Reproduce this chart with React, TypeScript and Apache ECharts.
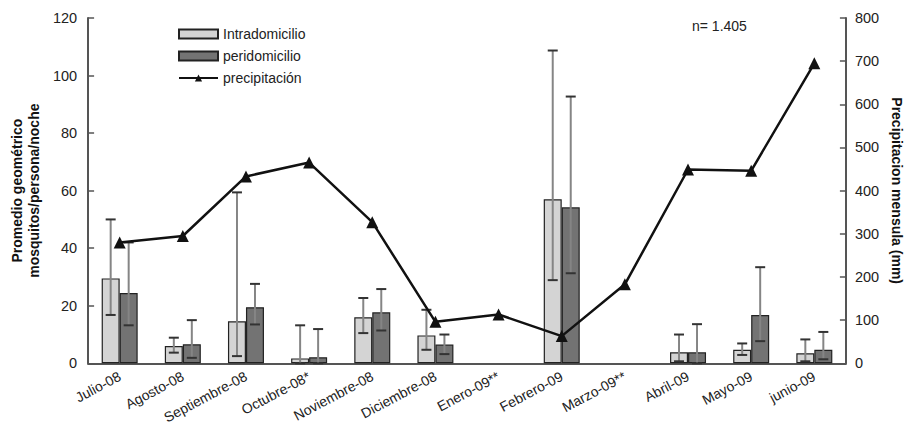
import React, { useEffect, useRef } from "react";
import * as echarts from "echarts";

const months = [
  "Julio-08", "Agosto-08", "Septiembre-08", "Octubre-08*", "Noviembre-08", "Diciembre-08",
  "Enero-09**", "Febrero-09", "Marzo-09**", "Abril-09", "Mayo-09", "junio-09",
];
const intraMean = [29.5, 6.0, 14.6, 1.7, 16.0, 9.7, null, 57.0, null, 3.8, 4.7, 3.5];
const intraLow = [16.8, 3.7, 2.5, 0, 10.5, 4.7, null, 28.9, null, 0.7, 2.9, 0.7];
const intraHigh = [50, 8.9, 59.4, 13.2, 22.7, 18.6, null, 108.7, null, 10, 6.9, 8.3];
const periMean = [24.4, 6.6, 19.5, 2.1, 17.7, 6.5, null, 54.2, null, 3.8, 16.8, 4.7];
const periLow = [13.2, 1.9, 13.5, 0, 11.4, 3.2, null, 31.3, null, 0, 7.7, 1.4];
const periHigh = [42, 15, 27.6, 11.9, 25.8, 10, null, 92.7, null, 13.6, 33.4, 10.9];
const precipitation = [280, 295, 433, 465, 327, 96, 113, 63, 183, 449, 446, 695];
const leftTicks = [0, 20, 40, 60, 80, 100, 120];
const rightTicks = [0, 100, 200, 300, 400, 500, 600, 700, 800];

const FONT = "'Liberation Sans', Arial, Helvetica, sans-serif";
const BAR_W = 18;

function errData(low: (number | null)[], high: (number | null)[]) {
  const out: any[] = [];
  low.forEach((l, i) => {
    const h = high[i];
    if (l !== null && h !== null) out.push([i, l, h]);
  });
  return out;
}

function errRender(offset: number) {
  return (params: any, api: any) => {
    const i = api.value(0);
    const lo = api.coord([i, api.value(1)]);
    const hi = api.coord([i, api.value(2)]);
    const x = lo[0] + offset;
    const cw = 5;
    return {
      type: "group",
      children: [
        { type: "line", shape: { x1: x, y1: lo[1], x2: x, y2: hi[1] }, style: { stroke: "#858585", lineWidth: 2 } },
        { type: "line", shape: { x1: x - cw, y1: hi[1], x2: x + cw, y2: hi[1] }, style: { stroke: "#333", lineWidth: 2 } },
        { type: "line", shape: { x1: x - cw, y1: lo[1], x2: x + cw, y2: lo[1] }, style: { stroke: "#333", lineWidth: 2 } },
      ],
    };
  };
}

export default function App() {
  const ref = useRef<HTMLDivElement>(null);
  useEffect(() => {
    if (!ref.current) return;
    document.body.style.margin = "0";
    const chart = echarts.init(ref.current, null, { renderer: "svg" });
    chart.setOption({
      animation: false,
      backgroundColor: "#fff",
      textStyle: { fontFamily: FONT },
      grid: { left: 83, right: 55, top: 18, bottom: 62 },
      legend: {
        orient: "vertical",
        left: 173,
        top: 22,
        itemWidth: 39,
        itemHeight: 9,
        itemGap: 8,
        textStyle: { fontFamily: FONT, fontSize: 14, color: "#222" },
        data: [
          { name: "Intradomicilio", icon: "rect" },
          { name: "peridomicilio", icon: "rect" },
          { name: "precipitación" },
        ],
      },
      graphic: [
        {
          type: "text",
          left: 692,
          top: 19,
          style: { text: "n= 1.405", fontFamily: FONT, fontSize: 14, fill: "#222" },
        },
      ],
      xAxis: {
        type: "category",
        data: months,
        axisLine: { lineStyle: { color: "#555", width: 2 } },
        axisTick: { inside: true, length: 6, lineStyle: { color: "#555", width: 1.5 } },
        axisLabel: { rotate: 28, fontFamily: FONT, fontSize: 14, color: "#222", margin: 12 },
      },
      yAxis: [
        {
          type: "value",
          min: 0,
          max: 120,
          interval: 20,
          name: "Promedio geométrico\nmosquitos/persona/noche",
          nameLocation: "middle",
          nameRotate: 90,
          nameGap: 44,
          nameTextStyle: { fontFamily: FONT, fontSize: 14, fontWeight: "bold", color: "#111", lineHeight: 17 },
          axisLine: { show: true, lineStyle: { color: "#555", width: 2 } },
          axisTick: { show: true, inside: true, length: 6, lineStyle: { color: "#555", width: 1.5 } },
          axisLabel: {
            fontFamily: FONT, fontSize: 14.5, color: "#222", margin: 11,
            formatter: (v: number) => (leftTicks.includes(v) ? String(v) : ""),
          },
          splitLine: { show: false },
        },
        {
          type: "value",
          min: 0,
          max: 800,
          interval: 100,
          position: "right",
          name: "Precipitacion mensula (mm)",
          nameLocation: "middle",
          nameRotate: -90,
          nameGap: 36,
          nameTextStyle: { fontFamily: FONT, fontSize: 14, fontWeight: "bold", color: "#111" },
          axisLine: { show: true, lineStyle: { color: "#555", width: 2 } },
          axisTick: { show: true, inside: true, length: 6, lineStyle: { color: "#555", width: 1.5 } },
          axisLabel: {
            fontFamily: FONT, fontSize: 14.5, color: "#222", margin: 9,
            formatter: (v: number) => (rightTicks.includes(v) ? String(v) : ""),
          },
          splitLine: { show: false },
        },
      ],
      series: [
        {
          name: "Intradomicilio",
          type: "bar",
          data: intraMean,
          barWidth: BAR_W,
          barGap: "0%",
          itemStyle: { color: "#d4d4d4", borderColor: "#222", borderWidth: 1.2 },
        },
        {
          name: "peridomicilio",
          type: "bar",
          data: periMean,
          barWidth: BAR_W,
          barGap: "0%",
          itemStyle: { color: "#737373", borderColor: "#222", borderWidth: 1.2 },
        },
        {
          name: "errIntra",
          type: "custom",
          data: errData(intraLow, intraHigh),
          renderItem: errRender(-BAR_W / 2),
          encode: { x: 0, y: [1, 2] },
          z: 3,
          silent: true,
        },
        {
          name: "errPeri",
          type: "custom",
          data: errData(periLow, periHigh),
          renderItem: errRender(BAR_W / 2),
          encode: { x: 0, y: [1, 2] },
          z: 3,
          silent: true,
        },
        {
          name: "precipitación",
          type: "line",
          yAxisIndex: 1,
          data: precipitation,
          symbol: "triangle",
          symbolSize: 12,
          z: 5,
          lineStyle: { color: "#111", width: 2.5 },
          itemStyle: { color: "#111" },
        },
      ],
    });
    return () => chart.dispose();
  }, []);
  return <div ref={ref} style={{ width: 912, height: 426 }} />;
}
